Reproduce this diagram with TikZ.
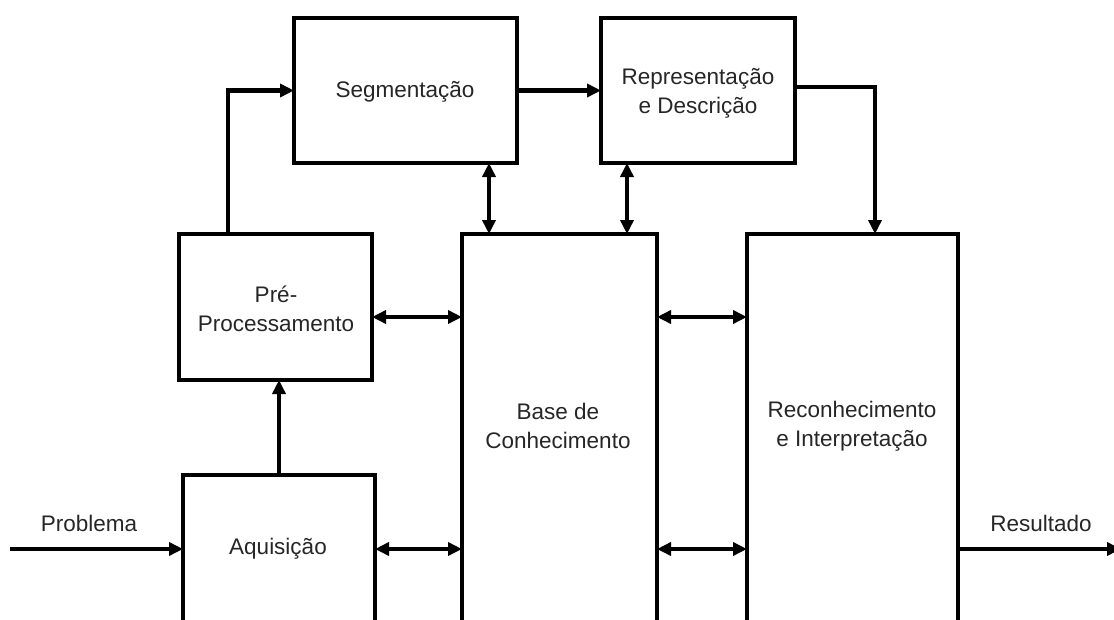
\documentclass[tikz,border=0pt]{standalone}
\usepackage{fontspec}
\setmainfont{Liberation Sans}
\usetikzlibrary{arrows.meta,calc}
\begin{document}
\begin{tikzpicture}[x=1pt,y=-1pt,
  box/.style={draw=black,line width=4.5pt,inner sep=0pt,outer sep=0pt,anchor=north west},
  lbl/.style={inner sep=0pt,align=center,text=black!85,font=\fontsize{22.5}{29}\selectfont},
  arr/.style={line width=4.5pt,-{Triangle[length=14pt,width=13pt]}},
  darr/.style={line width=4.5pt,{Triangle[length=14pt,width=13pt]}-{Triangle[length=14pt,width=13pt]}}]
\useasboundingbox (0,0) rectangle (1114,619);
\clip (0,0) rectangle (1114,619);
% boxes
\node[box,minimum width=223pt,minimum height=145pt] (seg) at (294,18) {};
\node[box,minimum width=194pt,minimum height=145pt] (rep) at (601,18) {};
\node[box,minimum width=193pt,minimum height=146pt] (pre) at (179,234) {};
\node[box,minimum width=192pt,minimum height=240pt] (aq) at (183,475) {};
\node[box,minimum width=195pt,minimum height=480pt] (base) at (462,234) {};
\node[box,minimum width=211pt,minimum height=480pt] (rec) at (747,234) {};
% texts
\node[lbl] (tseg) at (405,92) {Segmentação};
\node[lbl] (trep) at (698,93) {Representação\\e Descrição};
\node[lbl] (tpre) at (276,309) {Pré-\\Processamento};
\node[lbl] (taq) at (278,549) {Aquisição};
\node[lbl] (tbase) at (558,426) {Base de\\Conhecimento};
\node[lbl] (trec) at (852,426) {Reconhecimento\\e Interpretação};
\node[lbl] (tprob) at (89,523) {Problema};
\node[lbl] (tres) at (1041,523) {Resultado};
% helper coordinates
\coordinate (lowrow) at (0,549);
\coordinate (midrow) at (0,317);
\coordinate (probStart) at (10,549);
\coordinate (resEnd) at (1121,549);
\coordinate (preUp) at (228,234);
\coordinate (segBase) at (489,234);
\coordinate (repBase) at (627,234);
\coordinate (repRec) at (875,234);
% connectors
\draw[arr] (probStart) -- (aq.west |- probStart);
\draw[arr] (aq.north) -- (aq.north |- pre.south);
\draw[arr] (preUp) |- (seg.west);
\draw[arr] (seg.east) -- (rep.west);
\draw[arr] ([yshift=3.5pt]rep.east) -| (repRec);
\draw[darr] (segBase |- seg.south) -- (segBase);
\draw[darr] (repBase |- rep.south) -- (repBase);
\draw[darr] (pre.east |- midrow) -- (base.west |- midrow);
\draw[darr] (aq.east |- lowrow) -- (base.west |- lowrow);
\draw[darr] (base.east |- midrow) -- (rec.west |- midrow);
\draw[darr] (base.east |- lowrow) -- (rec.west |- lowrow);
\draw[arr] (rec.east |- lowrow) -- (resEnd);
\end{tikzpicture}
\end{document}
